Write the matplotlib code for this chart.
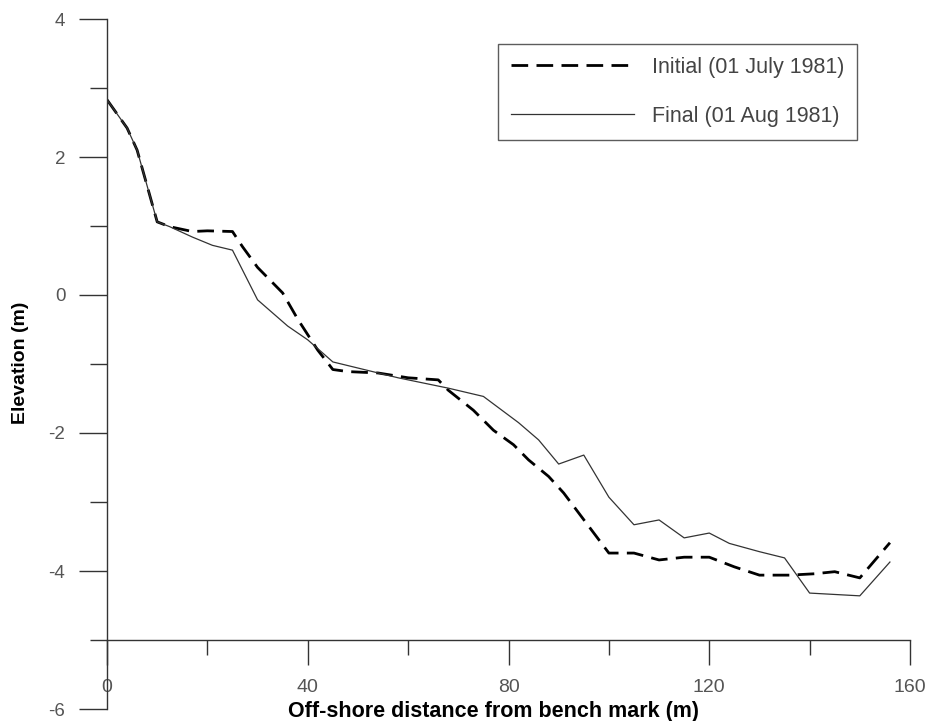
import matplotlib
matplotlib.use("Agg")
import matplotlib.pyplot as plt
from matplotlib.ticker import MultipleLocator

plt.rcParams['font.family'] = ['Liberation Sans', 'DejaVu Sans']
plt.rcParams['lines.scale_dashes'] = False
plt.rcParams['axes.unicode_minus'] = False

# beach profile, 01 July 1981 (initial)
x_initial = [0, 4, 6, 10, 12.5, 17, 20, 25, 27, 30, 35, 38, 42, 45, 48, 54, 60, 66,
             68, 73, 77, 81, 84, 88, 91, 97, 100, 105, 110, 115, 120, 125, 130, 136,
             141, 145, 150, 156]
y_initial = [2.83, 2.42, 2.1, 1.06, 0.99, 0.92, 0.93, 0.92, 0.7, 0.4, 0.03, -0.35,
             -0.8, -1.08, -1.11, -1.13, -1.2, -1.23, -1.38, -1.67, -1.96, -2.17, -2.39,
             -2.63, -2.87, -3.45, -3.74, -3.74, -3.84, -3.8, -3.8, -3.94, -4.06, -4.06,
             -4.04, -4.01, -4.1, -3.59]

# beach profile, 01 Aug 1981 (final)
x_final = [0, 4, 6, 10, 12.5, 17, 21, 25, 30, 36, 40, 45, 58, 68, 75, 82, 86, 90,
           95, 100, 105, 110, 115, 120, 124, 130, 135, 140, 150, 156]
y_final = [2.83, 2.42, 2.1, 1.06, 0.99, 0.84, 0.72, 0.65, -0.07, -0.45, -0.65, -0.97,
           -1.2, -1.35, -1.47, -1.85, -2.1, -2.45, -2.32, -2.93, -3.33, -3.26, -3.52,
           -3.45, -3.6, -3.72, -3.81, -4.32, -4.36, -3.87]

fig = plt.figure(figsize=(9.33, 7.21), dpi=100)
ax = fig.add_axes([107 / 933, 1 - 709 / 721, (910 - 107) / 933, (709 - 19) / 721])

ax.plot(x_initial, y_initial, color='black', lw=2.0, ls='--', dashes=(12, 6),
        label='Initial (01 July 1981)')
ax.plot(x_final, y_final, color='#333333', lw=0.9, label='Final (01 Aug 1981)')

ax.set_xlim(0, 160)
ax.set_ylim(-6, 4)

# x axis sits at -5, y axis runs down to -6 below it
ax.spines['top'].set_visible(False)
ax.spines['right'].set_visible(False)
ax.spines['bottom'].set_position(('data', -5))
for s in ('left', 'bottom'):
    ax.spines[s].set_color('#333333')
    ax.spines[s].set_linewidth(1.0)

ax.xaxis.set_major_locator(MultipleLocator(40))
ax.xaxis.set_minor_locator(MultipleLocator(20))
ax.yaxis.set_major_locator(MultipleLocator(2))
ax.yaxis.set_minor_locator(MultipleLocator(1))

ax.tick_params(axis='x', which='major', direction='out', length=18, width=1,
               color='#333333', pad=10, labelsize=14, labelcolor='#555555')
ax.tick_params(axis='x', which='minor', direction='out', length=11, width=1,
               color='#333333')
ax.tick_params(axis='y', which='major', direction='out', length=20, width=1,
               color='#333333', pad=10, labelsize=13.5, labelcolor='#555555')
ax.tick_params(axis='y', which='minor', direction='out', length=12, width=1,
               color='#333333')

fig.text(494 / 933, 1 - 717 / 721, 'Off-shore distance from bench mark (m)',
         ha='center', va='baseline', fontsize=15.5, fontweight='bold')
fig.text(21 / 933, 1 - 363 / 721, 'Elevation (m)', ha='center', va='center',
         rotation=90, fontsize=14, fontweight='bold')

leg = ax.legend(loc='upper left', bbox_to_anchor=(498 / 933, 1 - 44 / 721),
                bbox_transform=fig.transFigure, frameon=True, fancybox=False,
                fontsize=15.5, handlelength=5.7, handletextpad=0.85, labelspacing=1.3,
                borderpad=0.6, borderaxespad=0)
leg.get_frame().set_edgecolor('#333333')
leg.get_frame().set_linewidth(1.0)
for t in leg.get_texts():
    t.set_color('#444444')

fig.savefig('out.png', dpi=100)
